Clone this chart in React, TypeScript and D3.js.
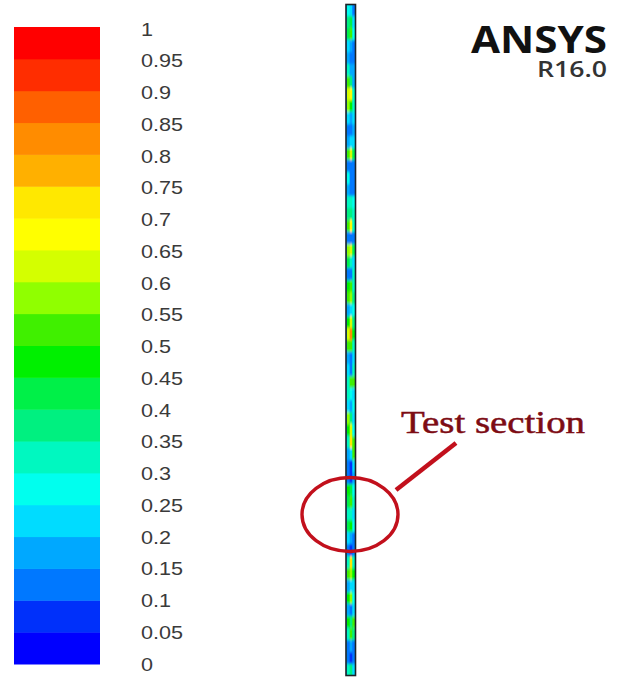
import React from 'react';
import * as d3 from 'd3';

// legend bands, from 0 up to 1
const bandColors = [
  '#0000ff', '#0030fa', '#0078ff', '#00a8ff', '#00dcff',
  '#00ffee', '#00f8c0', '#00f080', '#00f048', '#00f000',
  '#40f000', '#90ff00', '#d4ff00', '#ffff00', '#ffe800',
  '#ffb000', '#ff8c00', '#ff6000', '#ff2d00', '#ff0000',
];
const legendTicks = ['0', '0.05', '0.1', '0.15', '0.2', '0.25', '0.3', '0.35', '0.4', '0.45', '0.5',
  '0.55', '0.6', '0.65', '0.7', '0.75', '0.8', '0.85', '0.9', '0.95', '1'];

// contour values along the pipe, top to bottom, left / middle / right of the wall
const pipeLeft = [
  0.25, 0.35, 0.4, 0.2, 0.15, 0.3, 0.5, 0.6, 0.55, 0.2, 0.1, 0.15, 0.5, 0.1,
  0.25, 0.15, 0.3, 0.35, 0.5, 0.1, 0.55, 0.4, 0.1, 0.45, 0.5, 0.15, 0.45, 0.6,
  0.5, 0.15, 0.2, 0.3, 0.3, 0.2, 0.55, 0.45, 0.3, 0.15, 0.1, 0.1, 0.45, 0.4,
  0.3, 0.4, 0.2, 0.1, 0.3, 0.5, 0.15, 0.45, 0.15, 0.45, 0.3, 0.1, 0.1, 0.3,
];
const pipeMid = [
  0.2, 0.4, 0.5, 0.15, 0.1, 0.15, 0.35, 0.65, 0.45, 0.15, 0.1, 0.2, 0.6, 0.1,
  0.1, 0.1, 0.3, 0.35, 0.65, 0.1, 0.6, 0.3, 0.1, 0.5, 0.55, 0.2, 0.6, 0.8,
  0.5, 0.1, 0.1, 0.5, 0.25, 0.15, 0.35, 0.6, 0.7, 0.2, 0.05, 0.05, 0.4, 0.5,
  0.3, 0.45, 0.15, 0.05, 0.7, 0.55, 0.2, 0.55, 0.1, 0.35, 0.5, 0.15, 0.05, 0.35,
];
const pipeRight = [
  0.1, 0.2, 0.25, 0.1, 0.1, 0.15, 0.15, 0.3, 0.3, 0.2, 0.15, 0.2, 0.4, 0.1,
  0.1, 0.1, 0.25, 0.3, 0.3, 0.1, 0.4, 0.2, 0.3, 0.3, 0.35, 0.25, 0.35, 0.45,
  0.3, 0.2, 0.3, 0.5, 0.2, 0.25, 0.2, 0.25, 0.5, 0.5, 0.2, 0.15, 0.25, 0.3,
  0.2, 0.25, 0.1, 0.1, 0.3, 0.45, 0.2, 0.25, 0.2, 0.5, 0.35, 0.1, 0.1, 0.2,
];

const width = 622;
const height = 677;

export default function App() {
  const legendY = d3.scaleLinear().domain([0, 1]).range([664, 27]);
  const tickY = d3.scaleLinear().domain([0, 1]).range([664, 29]);
  const bandStep = d3.range(0, 1, 0.05);

  const pipeColor = d3.scaleQuantize<string>().domain([0, 1]).range(bandColors);
  const pipeRows = d3.scaleBand<number>().domain(d3.range(pipeMid.length)).range([4, 676]);
  const pipeCols = d3.scaleBand<number>().domain([0, 1, 2]).range([347, 355]);
  const pipeSeries = [pipeLeft, pipeMid, pipeRight];

  return (
    <svg
      width={width}
      height={height}
      style={{ position: 'absolute', left: 0, top: 0, background: '#fff' }}
    >
      <defs>
        <filter id="soft" x="-50%" y="-2%" width="200%" height="104%">
          <feGaussianBlur stdDeviation="0.7 1.6" />
        </filter>
        <clipPath id="pipeClip">
          <rect x={346} y={4} width={10} height={672} />
        </clipPath>
      </defs>

      {bandStep.map((v, i) => (
        <rect
          key={i}
          x={14}
          width={86}
          y={legendY(v + 0.05)}
          height={legendY(v) - legendY(v + 0.05) + 0.5}
          fill={bandColors[i]}
        />
      ))}

      {legendTicks.map((t, i) => (
        <text
          key={t}
          transform={`translate(141,${tickY(i * 0.05) + 6.5}) scale(1.2,1)`}
          fontFamily="Liberation Sans"
          fontSize={18}
          fill="#3a3a3a"
        >
          {t}
        </text>
      ))}

      <g clipPath="url(#pipeClip)">
        <g filter="url(#soft)">
          <rect x={345} y={0} width={12} height={677} fill={pipeColor(0.15)} />
          {pipeSeries.map((series, c) =>
            series.map((v, r) => (
              <rect
                key={`${c}-${r}`}
                x={pipeCols(c)}
                y={pipeRows(r)}
                width={pipeCols.bandwidth() + 0.5}
                height={pipeRows.bandwidth() + 0.5}
                fill={pipeColor(v)}
              />
            )),
          )}
        </g>
      </g>
      <rect x={346} y={4.5} width={9.5} height={671} fill="none" stroke="#1c2226" strokeWidth={1.6} />

      <text
        x={471}
        y={53}
        fontFamily="Open Sans"
        fontWeight={700}
        fontSize={37}
        fill="#111"
        textLength={136}
        lengthAdjust="spacingAndGlyphs"
      >
        ANSYS
      </text>
      <text
        x={537}
        y={77}
        fontFamily="Open Sans"
        fontWeight={600}
        fontSize={21}
        fill="#333"
        textLength={70}
        lengthAdjust="spacingAndGlyphs"
      >
        R16.0
      </text>

      <ellipse cx={350} cy={514.5} rx={48} ry={37} fill="none" stroke="#c2101c" strokeWidth={3.4} />
      <line x1={396} y1={490} x2={456} y2={443} stroke="#c2101c" strokeWidth={4.5} />
      <text
        x={401}
        y={433}
        fontFamily="Liberation Serif"
        fontSize={32}
        fill="#7d0c14"
        stroke="#7d0c14"
        strokeWidth={0.5}
        textLength={184}
        lengthAdjust="spacingAndGlyphs"
      >
        Test section
      </text>
    </svg>
  );
}
